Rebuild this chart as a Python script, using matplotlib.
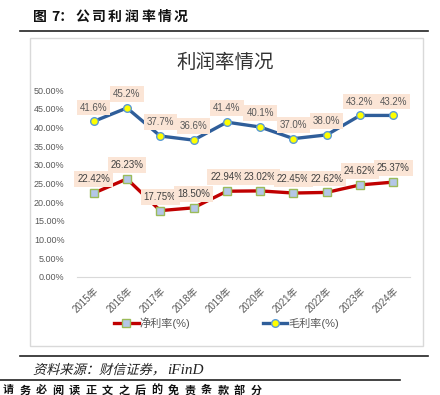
import matplotlib
matplotlib.use("Agg")
import matplotlib.pyplot as plt
from matplotlib.lines import Line2D
from matplotlib.patches import PathPatch
from matplotlib.textpath import TextPath
from matplotlib.font_manager import FontProperties
from matplotlib.transforms import Affine2D

plt.rcParams['font.family'] = ['Liberation Sans', 'Noto Sans CJK SC', 'DejaVu Sans']

years = ['2015年', '2016年', '2017年', '2018年', '2019年',
         '2020年', '2021年', '2022年', '2023年', '2024年']
net_margin = [22.42, 26.23, 17.75, 18.50, 22.94, 23.02, 22.45, 22.62, 24.62, 25.37]
gross_margin = [41.6, 45.2, 37.7, 36.6, 41.4, 40.1, 37.0, 38.0, 43.2, 43.2]
y_ticks = [0, 5, 10, 15, 20, 25, 30, 35, 40, 45, 50]

W, H = 440, 395
fig = plt.figure(figsize=(W / 100, H / 100), dpi=100)


def fx(px):
    return px / W


def fy(py):
    return 1 - py / H


def slanted_text(s, x_px, base_px, size, family, color='#222222', skew=14):
    # CJK fonts here have no italic, so shear the glyph outlines instead
    path = TextPath((0, 0), s, size=size, prop=FontProperties(family=family))
    tr = (Affine2D().skew_deg(skew, 0).scale(1 / 72)
          .translate(x_px / 100, (H - base_px) / 100) + fig.dpi_scale_trans)
    fig.add_artist(PathPatch(path, transform=tr, facecolor=color, edgecolor='none'))


# header: title of the figure with wide letter spacing
cjk = ['Noto Sans CJK SC']
fig.text(fx(33), fy(17), '图', fontsize=10, fontweight='bold', family=cjk,
         va='center', ha='left', color='#111111')
fig.text(fx(51), fy(17), '7：', fontsize=10, fontweight='bold', family=cjk,
         va='center', ha='left', color='#111111')
for i, ch in enumerate('公司利润率情况'):
    fig.text(fx(75 + 16.5 * i), fy(17), ch, fontsize=10, fontweight='bold', family=cjk,
             va='center', ha='left', color='#111111')

fig.add_artist(Line2D([fx(20), fx(428)], [fy(30.5), fy(30.5)], color='#222222', lw=1.2))
fig.add_artist(plt.Rectangle((fx(30), fy(345.5)), fx(423) - fx(30), fy(37.5) - fy(345.5),
                             fill=False, edgecolor='#d9d9d9', lw=1.0))
fig.add_artist(Line2D([fx(20), fx(428)], [fy(356), fy(356)], color='#222222', lw=1.2))

slanted_text('资料来源：财信证券，', 33, 374, 9.5, 'Noto Sans CJK SC')
fig.text(fx(167), fy(374), 'iFinD', fontsize=11, style='italic', family=['Liberation Serif'],
         va='baseline', ha='left', color='#222222')
fig.add_artist(Line2D([fx(0), fx(400)], [fy(380), fy(380)], color='#222222', lw=1.2))
for i, ch in enumerate('请务必阅读正文之后的免责条款部分'):
    fig.text(fx(3 + 16.5 * i), fy(383.5), ch, fontsize=8, fontweight='bold',
             family=cjk, va='top', ha='left', color='#111111')

fig.text(fx(225), fy(62), '利润率情况', fontsize=14, family=cjk,
         va='center', ha='center', color='#333333')

ax = fig.add_axes([fx(77), fy(277), fx(410) - fx(77), fy(90) - fy(277)])
x = list(range(len(years)))

ax.plot(x, net_margin, color='#c00000', lw=2.4, marker='s', markersize=5.5,
        markerfacecolor='#b4c7e7', markeredgecolor='#9bbb59', markeredgewidth=1.0,
        label='净利率(%)', zorder=3)
ax.plot(x, gross_margin, color='#2f5e9a', lw=2.4, marker='o', markersize=5.5,
        markerfacecolor='#ffff00', markeredgecolor='#5b9bd5', markeredgewidth=1.0,
        label='毛利率(%)', zorder=3)

for xi, v in zip(x, gross_margin):
    ax.annotate(f'{v:.1f}%', (xi, v), xytext=(0, 10), textcoords='offset points',
                ha='center', va='center', fontsize=7, color='#595959',
                bbox=dict(boxstyle='square,pad=0.3', facecolor='#fbe5d6', edgecolor='none'),
                zorder=4)
for xi, v in zip(x, net_margin):
    ax.annotate(f'{v:.2f}%', (xi, v), xytext=(0, 10), textcoords='offset points',
                ha='center', va='center', fontsize=7, color='#404040',
                bbox=dict(boxstyle='square,pad=0.3', facecolor='#fbe5d6', edgecolor='none'),
                zorder=4)

ax.set_xlim(-0.5, len(years) - 0.5)
ax.set_ylim(0, 50)
ax.set_yticks(y_ticks)
ax.set_yticklabels([f'{t:.2f}%' for t in y_ticks], fontsize=6.5, color='#595959')
ax.set_xticks(x)
ax.set_xticklabels(years, rotation=45, ha='right', rotation_mode='anchor',
                   fontsize=7, color='#595959')
ax.tick_params(axis='both', length=0)
ax.tick_params(axis='y', pad=9)
ax.tick_params(axis='x', pad=6)
for side in ['top', 'right', 'left']:
    ax.spines[side].set_visible(False)
ax.spines['bottom'].set_color('#d9d9d9')
ax.set_facecolor('none')

leg_x = (226.5 - 77) / (410 - 77)
leg_y = (fy(323) - fy(277)) / (fy(90) - fy(277))
leg = ax.legend(loc='center', bbox_to_anchor=(leg_x, leg_y),
                ncol=2, frameon=False, fontsize=8, handlelength=2.2, columnspacing=6.5,
                handletextpad=0.1, borderaxespad=0, borderpad=0)
for t in leg.get_texts():
    t.set_color('#595959')

fig.savefig('out.png', dpi=100)
